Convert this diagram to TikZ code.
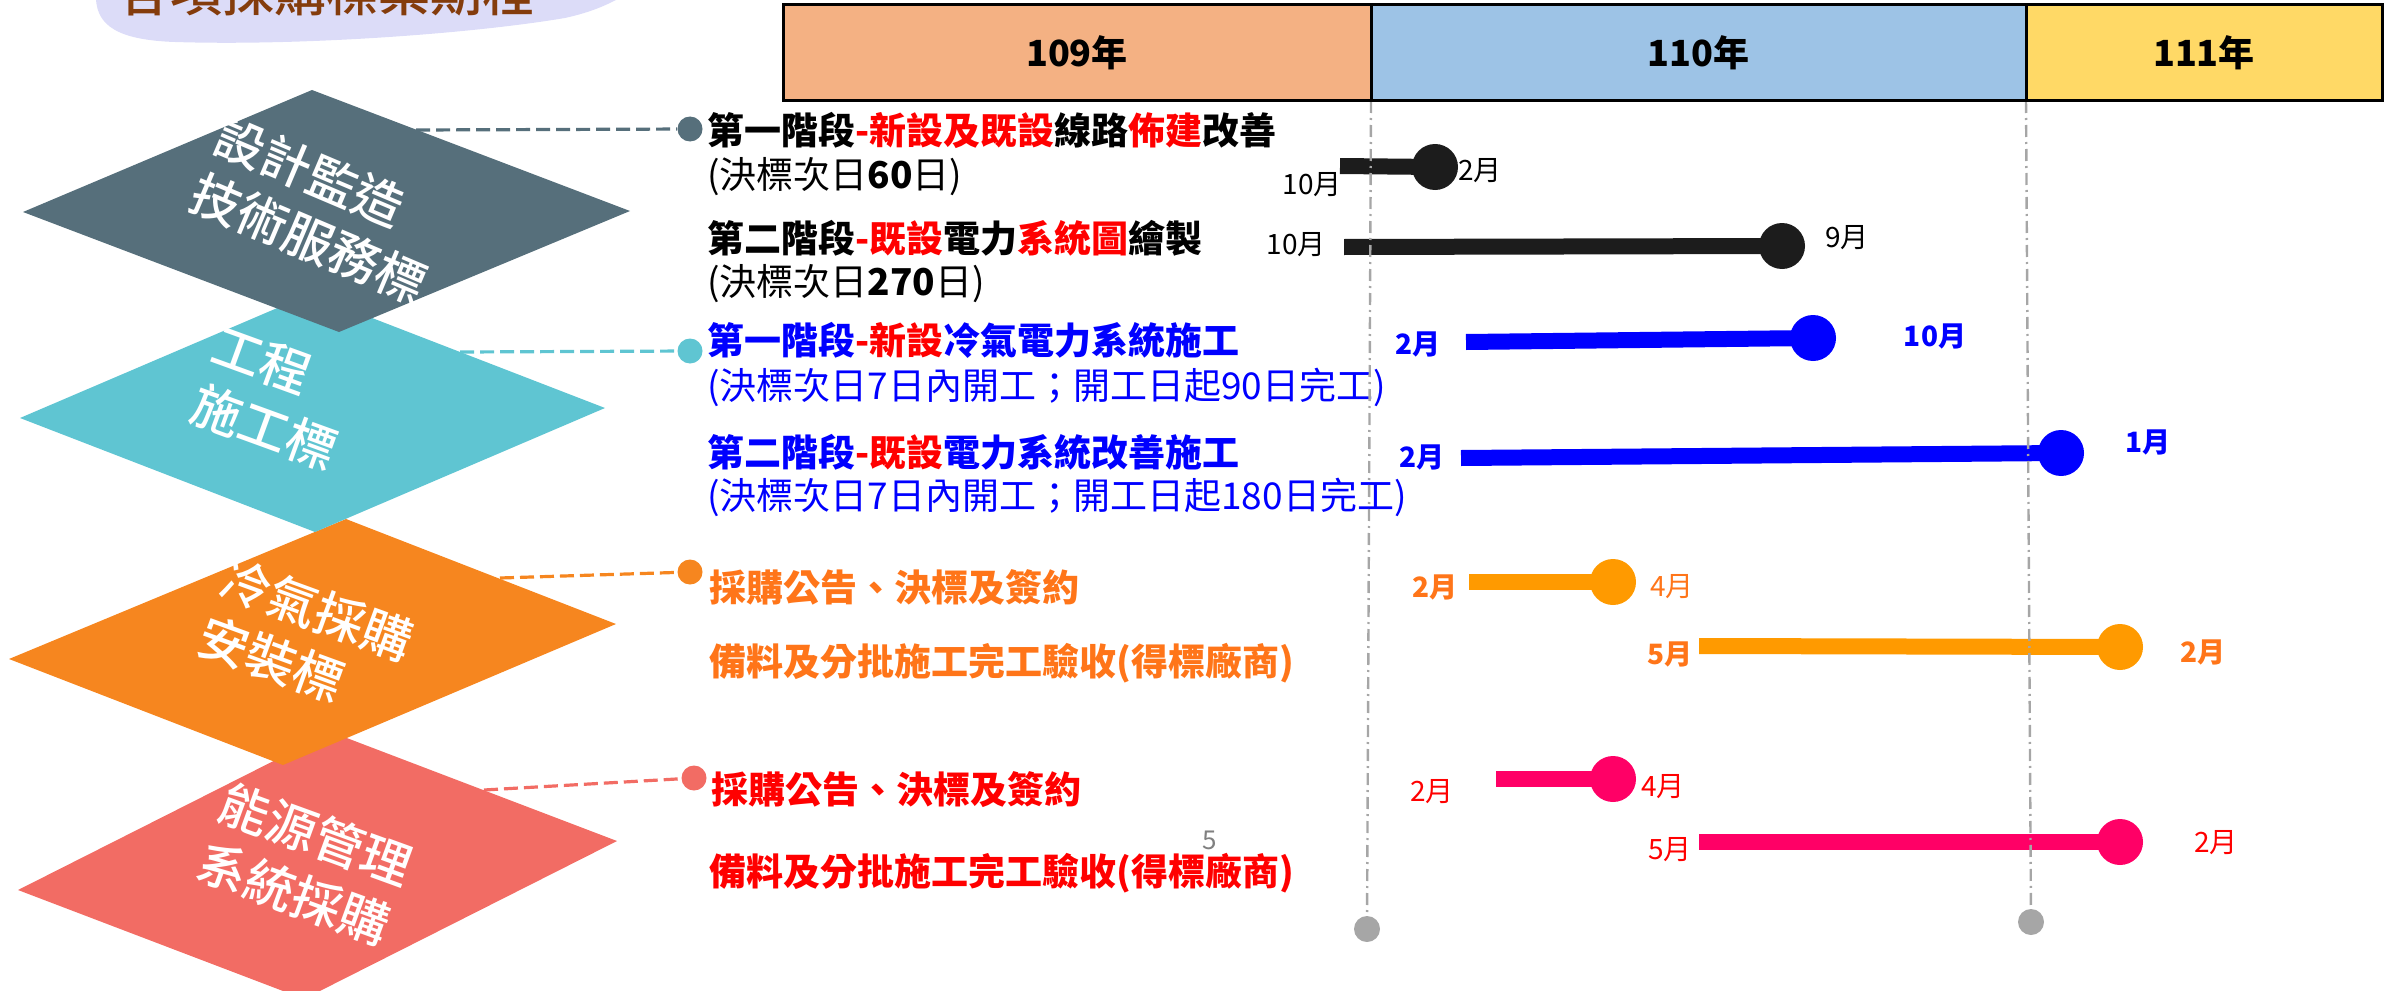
\documentclass[tikz,border=0pt]{standalone}
\usepackage{fontspec}
\setmainfont{Noto Sans CJK TC}
\newfontfamily\mediumfont{Noto Sans CJK TC Medium}
\usetikzlibrary{positioning}

\definecolor{slate}{HTML}{566F7B}
\definecolor{aqua}{HTML}{5FC5D2}
\definecolor{tangerine}{HTML}{F6861F}
\definecolor{coral}{HTML}{F26C64}
\definecolor{yearA}{HTML}{F4B183}
\definecolor{yearB}{HTML}{9DC3E6}
\definecolor{yearC}{HTML}{FFD966}
\definecolor{inkorange}{HTML}{FF7519}
\definecolor{barorange}{HTML}{FF9A00}
\definecolor{barpink}{HTML}{FF0066}
\definecolor{barblack}{HTML}{1C1C1C}
\definecolor{guidegray}{HTML}{A6A6A6}
\definecolor{lavender}{HTML}{DCDCF8}
\definecolor{titlebrown}{HTML}{843C0C}

\tikzset{
  diamond text/.style={text=white, align=left, inner sep=0pt, font=\mediumfont\fontsize{25}{31}\selectfont},
  task/.style={anchor=west, inner sep=0pt, font=\fontsize{18.5}{22}\selectfont\bfseries},
  task note/.style={anchor=west, inner sep=0pt, font=\fontsize{18.5}{22}\selectfont},
  knob/.style={circle, inner sep=0pt, minimum size=12.5pt},
  link/.style={line width=1.6pt, dash pattern=on 7pt off 3pt},
  bar/.style={line width=8pt},
  bar end/.style={circle, inner sep=0pt, minimum size=23pt},
  guide line/.style={guidegray, line width=1.2pt, dash pattern=on 6pt off 2.5pt on 1pt off 2.5pt},
  guide end/.style={circle, fill=guidegray, inner sep=0pt, minimum size=13pt},
  month/.style={inner sep=0pt, font=\fontsize{14}{16}\selectfont},
  year box/.style={draw=black, line width=1.5pt, minimum height=48pt, inner sep=0pt,
    font=\fontsize{18}{20}\selectfont\bfseries},
}

\begin{document}
\begin{tikzpicture}[x=0.5pt, y=-0.5pt]

\useasboundingbox (0,0) rectangle (2397,990);

% title, cut at the top edge
\fill[lavender] (96,0) .. controls (98,24) and (115,40) .. (175,42)
  .. controls (300,46) and (470,34) .. (565,18)
  .. controls (592,12) and (606,5) .. (616,0) -- cycle;
\node[anchor=base west, inner sep=0pt, text=titlebrown, font=\mediumfont\fontsize{26}{30}\selectfont]
  (title) at (118,12) {各項採購標案期程};

% tenders
\fill[coral] (331,732) -- (617,841) -- (304,999) -- (18,890) -- cycle;
\fill[tangerine] (346,519) -- (616,624) -- (283,765) -- (9,659) -- cycle;
\fill[aqua] (310,294) -- (605,408) -- (315,532) -- (20,418) -- cycle;
\fill[slate] (312,90) -- (630,211) -- (339,332) -- (23,212) -- cycle;

\node[diamond text, rotate=-23] (tender-design) at (321,210) {設計監造\\技術服務標};
\node[diamond text, rotate=-20] (tender-works) at (275,398) {工程\\施工標};
\node[diamond text, rotate=-20] (tender-aircon) at (306,639) {冷氣採購\\安裝標};
\node[diamond text, rotate=-20] (tender-energy) at (305,864) {能源管理\\系統採購};

% links to the tasks
\foreach \n/\c/\xa/\ya/\xb/\yb in {a/slate/416/130/690/129, c/aqua/460/352/690/351,
    e/tangerine/500/578/690/572, f/coral/484/790/694/778} {
  \coordinate (hook-\n) at (\xa,\ya);
  \node[knob, fill=\c] (pin-\n) at (\xb,\yb) {};
  \draw[link, \c] (hook-\n) -- (pin-\n);
}

% tasks
\node[task] (task-a) at (707,130) {第一階段\textcolor{red}{-新設及既設}線路\textcolor{red}{佈建}改善};
\node[task note] (note-a) at (707,177) {(決標次日\textbf{60}日)};
\node[task] (task-b) at (707,238) {第二階段\textcolor{red}{-既設}電力\textcolor{red}{系統圖}繪製};
\node[task note] (note-b) at (707,284) {(決標次日\textbf{270}日)};
\node[task, text=blue] (task-c) at (707,340) {第一階段\textcolor{red}{-新設}冷氣電力系統施工};
\node[task note, text=blue] (note-c) at (707,387) {(決標次日7日內開工；開工日起90日完工)};
\node[task, text=blue] (task-d) at (707,452) {第二階段\textcolor{red}{-既設}電力系統改善施工};
\node[task note, text=blue] (note-d) at (707,497) {(決標次日7日內開工；開工日起180日完工)};
\node[task, text=inkorange] (task-e) at (709,588) {採購公告、決標及簽約};
\node[task, text=inkorange] (note-e) at (709,663) {備料及分批施工完工驗收(得標廠商)};
\node[task, text=red] (task-f) at (711,790) {採購公告、決標及簽約};
\node[task, text=red] (note-f) at (709,873) {備料及分批施工完工驗收(得標廠商)};

\node[inner sep=0pt, text=gray, font=\fontsize{13}{15}\selectfont] (page-no) at (1210,840) {5};

% bars
\foreach \n/\xa/\ya/\xb/\yb/\c in {a1/1340/166/1435/167/barblack, a2/1344/247/1782/246/barblack,
    b1/1466/342/1813/338/blue, b2/1461/458/2061/453/blue,
    c1/1469/582/1613/582/barorange, c2/1699/646/2120/647/barorange,
    d1/1496/779/1613/779/barpink, d2/1699/842/2120/842/barpink} {
  \coordinate (start-\n) at (\xa,\ya);
  \coordinate (end-\n) at (\xb,\yb);
  \draw[bar, \c] (start-\n) -- (end-\n);
}

% year guides
\foreach \i/\xa/\xb/\yb in {1/1371/1367/929, 2/2026/2031/922} {
  \coordinate (guide-top-\i) at (\xa,101);
  \node[guide end] (guide-end-\i) at (\xb,\yb) {};
  \draw[guide line] (guide-top-\i) -- (guide-end-\i);
}

\foreach \n/\c in {a1/barblack, a2/barblack, b1/blue, b2/blue,
    c1/barorange, c2/barorange, d1/barpink, d2/barpink}
  \node[bar end, fill=\c] (stop-\n) at (end-\n) {};

% months
\foreach \t/\x/\y/\c [count=\i] in {10月/1312/185/black, 2月/1480/171/black,
    10月/1296/245/black, 9月/1847/238/black, 4月/1672/587/inkorange,
    2月/1432/792/red, 4月/1663/787/red, 5月/1670/850/red, 2月/2216/843/red}
  \node[month, text=\c] (month-\i) at (\x,\y) {\t};

\foreach \t/\x/\y/\c [count=\i] in {2月/1418/344/blue, 10月/1935/336/blue,
    2月/1422/457/blue, 1月/2148/442/blue, 2月/1435/587/inkorange,
    5月/1670/654/inkorange, 2月/2203/652/inkorange}
  \node[month, text=\c, font=\fontsize{14}{16}\selectfont\bfseries] (bold-month-\i) at (\x,\y) {\t};

% years
\node[year box, fill=yearA, minimum width=294pt] (year-109) at (1077,53) {109年};
\node[year box, fill=yearB, minimum width=327.5pt] (year-110) at (1698.5,53) {110年};
\node[year box, fill=yearC, minimum width=178pt] (year-111) at (2204,53) {111年};

\end{tikzpicture}
\end{document}
